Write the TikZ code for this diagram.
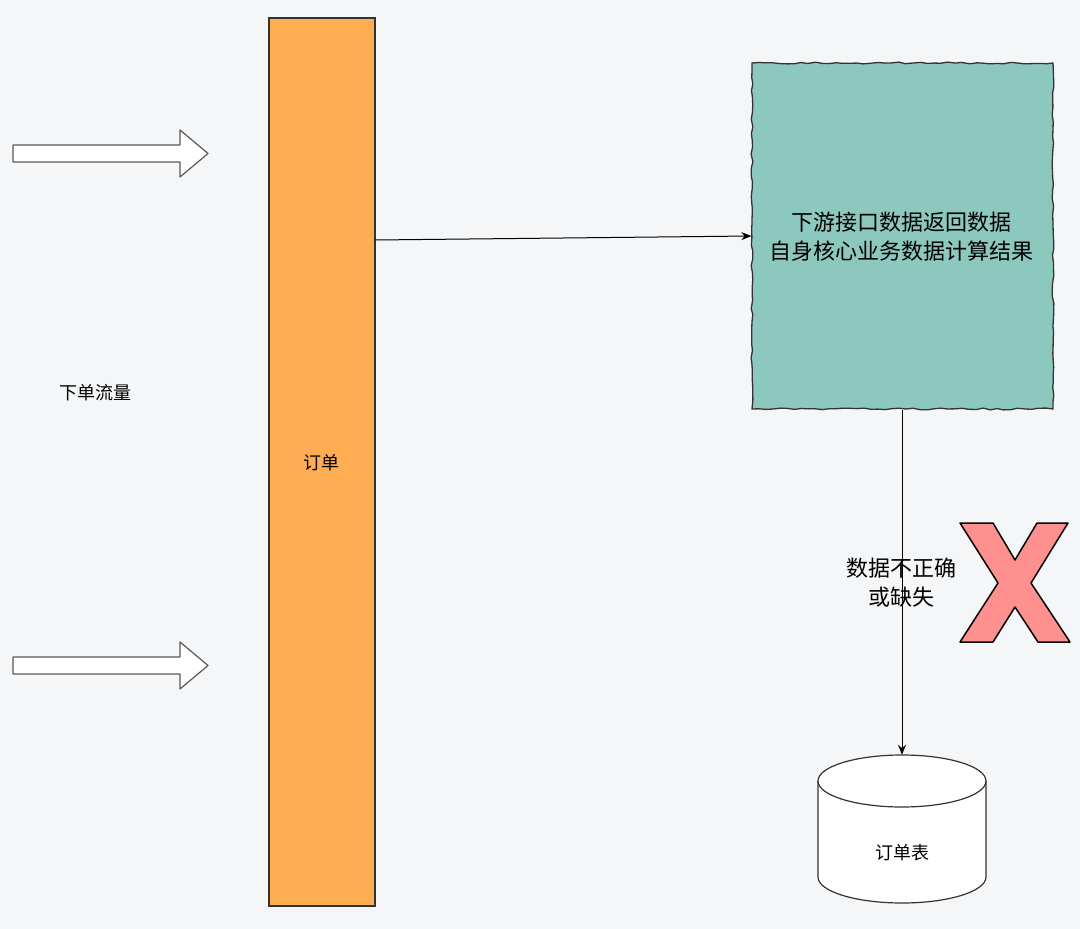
\documentclass[tikz,border=0pt]{standalone}
\usepackage{fontspec}
\setmainfont{Noto Sans CJK SC}
\usetikzlibrary{arrows.meta,decorations.pathmorphing}
\definecolor{bg}{HTML}{F5F6F8}
\definecolor{orangefill}{HTML}{FFAD52}
\definecolor{tealfill}{HTML}{8DC8BE}
\definecolor{redx}{HTML}{FF9090}
\definecolor{edge}{HTML}{333333}
\tikzset{
  plainbox/.style={draw=edge, line width=1.3pt, inner sep=0pt},
  sketchbox/.style={draw=edge, line width=1.3pt, inner sep=0pt,
    decorate, decoration={random steps, segment length=7pt, amplitude=0.9pt}},
  blockarrow/.style={draw=black!65, fill=white, line width=1.2pt, line join=round},
  conn/.style={draw=black, line width=1pt, -{Stealth[length=10pt,width=8pt]}},
  txt/.style={font=\fontsize{18}{22}\selectfont, inner sep=0pt, align=center},
  bigtxt/.style={font=\fontsize{22}{29}\selectfont, inner sep=0pt, align=center},
}
\begin{document}
\begin{tikzpicture}[x=1pt,y=-1pt]
\pgfmathsetseed{7}
\useasboundingbox (0,0) rectangle (1080,929);
\fill[bg] (0,0) rectangle (1080,929);

% block arrows
\draw[blockarrow] (13,145) -- (180,145) -- (180,130) -- (208,153.5) -- (180,177) -- (180,162) -- (13,162) -- cycle;
\draw[blockarrow] (13,657) -- (180,657) -- (180,642) -- (208,665.5) -- (180,689) -- (180,674) -- (13,674) -- cycle;

\node[txt] (flow) at (95,393) {下单流量};

% order column
\node[plainbox, fill=orangefill, minimum width=106pt, minimum height=888pt] (order) at (322,462) {};
\node[txt] (ordertxt) at (321,463) {订单};

% teal box
\fill[tealfill] (752,63) rectangle (1053,409);
\node[sketchbox, minimum width=301pt, minimum height=346pt] (calc) at (902.5,236) {};
\node[bigtxt] (calctxt) at (901,237) {下游接口数据返回数据\\自身核心业务数据计算结果};

\coordinate (orderout) at (375,240);
\draw[conn] (orderout) -- (calc.west);

% database cylinder
\node[minimum width=168pt, minimum height=148pt, inner sep=0pt] (db) at (902,829) {};
\filldraw[fill=white, draw=edge, line width=1.2pt]
  (818,781) -- (818,877) arc[start angle=180, end angle=0, x radius=84, y radius=26]
  -- (986,781) arc[start angle=0, end angle=-180, x radius=84, y radius=26] -- cycle;
\draw[draw=edge, line width=1.2pt] (818,781) arc[start angle=180, end angle=0, x radius=84, y radius=26];
\node[txt] (dbtxt) at (902,853) {订单表};

\draw[conn] (calc.south -| db.north) -- (db.north);
\node[bigtxt] (lbl) at (901,583) {数据不正确\\或缺失};

% red X
\filldraw[fill=redx, draw=black, line width=1.5pt, line join=round]
  (960,523) -- (993,523) -- (1015,560) -- (1037,523) -- (1068,523) -- (1031,583)
  -- (1070,642) -- (1038,642) -- (1015,607) -- (993,642) -- (960,642) -- (998,583) -- cycle;
\end{tikzpicture}
\end{document}
